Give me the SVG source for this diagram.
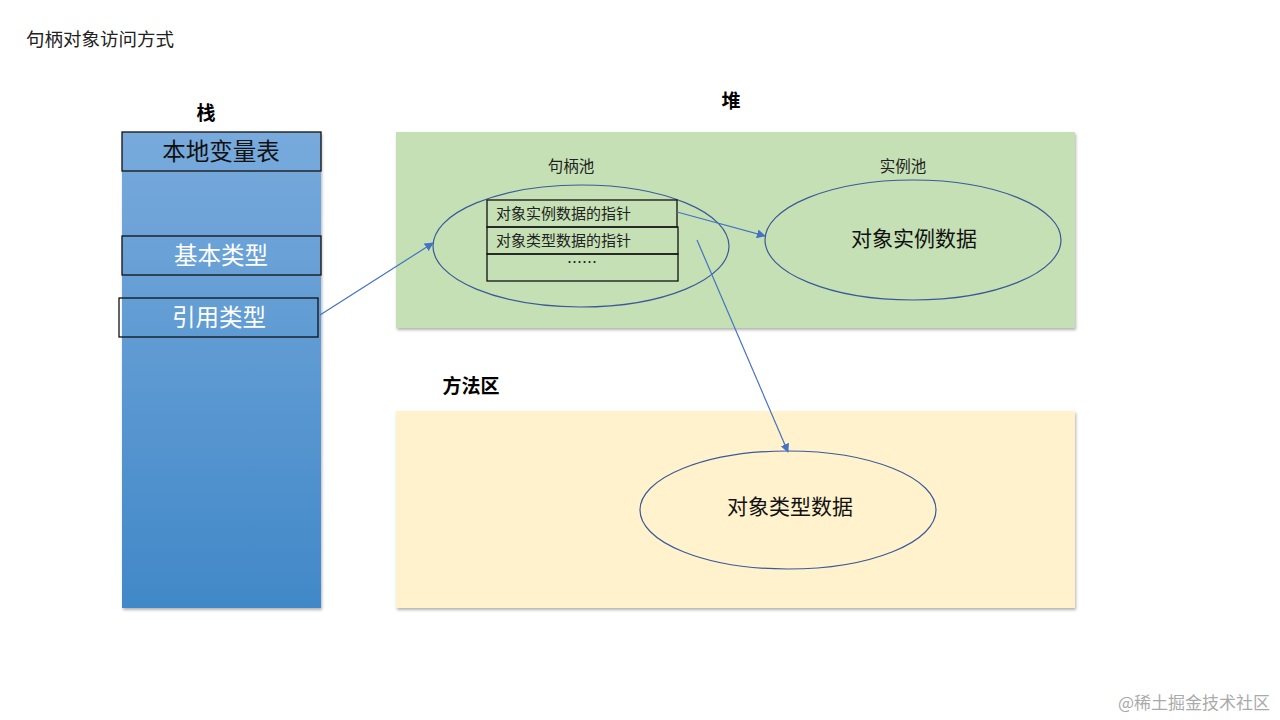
<svg xmlns="http://www.w3.org/2000/svg" width="1280" height="720" viewBox="0 0 1280 720">
<defs>
<linearGradient id="stackGrad" x1="0" y1="0" x2="0" y2="1">
<stop offset="0" stop-color="#78aadc"/>
<stop offset="1" stop-color="#4188c8"/>
</linearGradient>
<filter id="shadow" x="-5%" y="-5%" width="110%" height="110%">
<feDropShadow dx="1" dy="2" stdDeviation="1.5" flood-color="#000" flood-opacity="0.3"/>
</filter>
<marker id="arrow" viewBox="0 0 10 10" refX="9" refY="5" markerWidth="9" markerHeight="9" markerUnits="userSpaceOnUse" orient="auto">
<path d="M0,0 L10,5 L0,10 z" fill="#4472c4"/>
</marker>
</defs>
<style>
text { font-family: "Noto Sans CJK SC", "Noto Sans", sans-serif; }
.title { font-size: 18.5px; fill: #222; }
.hdr { font-size: 19px; font-weight: bold; fill: #000; }
.cell { fill: none; stroke: #111; stroke-width: 1.3; }
.ell { fill: none; stroke: #3a5a9a; stroke-width: 1.2; }
.big { font-size: 23.5px; }
.mid { font-size: 21px; fill: #111; }
.sm { font-size: 15.5px; fill: #222; }
.tbl { font-size: 15px; fill: #222; }
.conn { stroke: #4472c4; stroke-width: 1.2; fill: none; marker-end: url(#arrow); }
</style>
<rect width="1280" height="720" fill="#fff"/>
<text class="title" x="26" y="46">句柄对象访问方式</text>

<g id="stack">
<text class="hdr" x="206" y="120" text-anchor="middle">栈</text>
<rect x="122" y="132" width="199" height="476" fill="url(#stackGrad)" filter="url(#shadow)"/>
</g>
<g id="local-vars">
<rect class="cell" x="122" y="132" width="199" height="39"/>
<text class="big" x="221" y="160" text-anchor="middle" fill="#111">本地变量表</text>
</g>
<g id="basic-type">
<rect class="cell" x="122" y="236" width="199" height="39"/>
<text class="big" x="221" y="264" text-anchor="middle" fill="#fff">基本类型</text>
</g>
<g id="ref-type">
<rect class="cell" x="119" y="298" width="199" height="39"/>
<text class="big" x="219" y="326" text-anchor="middle" fill="#fff">引用类型</text>
</g>

<g id="heap">
<text class="hdr" x="731" y="108" text-anchor="middle">堆</text>
<rect x="396" y="132" width="679" height="196" fill="#c5e0b4" filter="url(#shadow)"/>
</g>
<g id="handle-pool">
<text class="sm" x="571" y="172" text-anchor="middle">句柄池</text>
<ellipse class="ell" cx="581" cy="246" rx="148" ry="61"/>
<rect class="cell" x="487" y="200" width="190" height="27"/>
<text class="tbl" x="496" y="219">对象实例数据的指针</text>
<rect class="cell" x="487" y="227" width="191" height="27"/>
<text class="tbl" x="496" y="246">对象类型数据的指针</text>
<rect class="cell" x="487" y="254" width="191" height="27"/>
<text class="tbl" x="582" y="268" text-anchor="middle">……</text>
</g>
<g id="instance-pool">
<text class="sm" x="903" y="172" text-anchor="middle">实例池</text>
<ellipse class="ell" cx="913" cy="240" rx="148" ry="60"/>
<text class="mid" x="914" y="246" text-anchor="middle">对象实例数据</text>
</g>

<g id="method-area">
<text class="hdr" x="471" y="393" text-anchor="middle">方法区</text>
<rect x="396" y="411" width="679" height="197" fill="#fff2cc" filter="url(#shadow)"/>
</g>
<g id="type-data">
<ellipse class="ell" cx="788" cy="510" rx="148" ry="59"/>
<text class="mid" x="790" y="514" text-anchor="middle">对象类型数据</text>
</g>

<g id="connectors">
<line class="conn" x1="320" y1="315" x2="433" y2="243"/>
<line class="conn" x1="677" y1="212" x2="765" y2="236"/>
<line class="conn" x1="697" y1="240" x2="788" y2="452"/>
</g>

<text x="1270" y="709" text-anchor="end" font-size="17" fill="#aaa" font-family="Noto Sans CJK SC, sans-serif">@稀土掘金技术社区</text>
</svg>
